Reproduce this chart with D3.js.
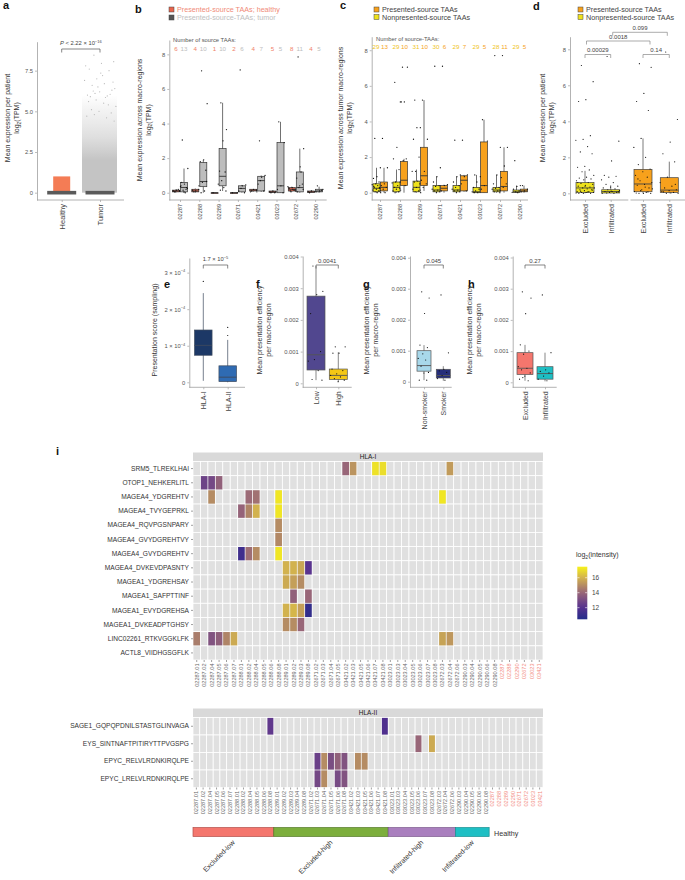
<!DOCTYPE html>
<html>
<head>
<meta charset="utf-8">
<script src="https://cdn.jsdelivr.net/npm/d3@7"></script>
<style>
  body { margin: 0; background: #fff; }
  svg { font-family: "Liberation Sans", Arial, sans-serif; }
</style>
</head>
<body>
<div id="chart"></div>
<script>
// ---------------- data ----------------

// panel a: mean expression per patient (dense clouds read as density levels + sparse dots)
const aGroups = ["Healthy", "Tumor"];
const aHealthyBand = [0, 1.0];
const aTumorLevels = [0, 2.0, 2.6, 3.4, 4.3, 5.2, 6.0];
const aTumorDensity = [1, 1, 0.8, 0.55, 0.35, 0.18, 0];
const aTumorSparse = [8.45, 8.05, 7.95, 7.6, 7.5, 7.0, 6.9, 6.7, 6.6, 6.3, 6.2, 6.0, 5.95, 6.1, 6.4, 7.2, 5.9, 6.05,
  6.5, 7.8, 5.85, 6.25, 6.8, 7.35, 5.6, 5.4, 5.7, 5.3, 5.5, 5.1, 4.9, 5.0, 4.7, 4.6, 4.8, 4.4];

// panel b/c: patients and number of source TAAs
const patients = ["02287", "02288", "02289", "02671", "03421", "03023", "02672", "02290"];
const bCountHealthy = [6, 4, 1, 2, 4, 5, 8, 4];
const bCountTumor = [13, 10, 10, 6, 7, 5, 11, 5];
const cCountNon = [29, 29, 31, 30, 29, 29, 28, 29];
const cCountPres = [13, 10, 10, 6, 7, 5, 11, 5];

// box stats: [lower whisker, q1, median, q3, upper whisker]
const bHealthyBox = [
  [0.02, 0.05, 0.1, 0.15, 0.2], [0, 0.05, 0.1, 0.2, 0.25], [0, 0, 0, 0, 0], [0, 0, 0, 0, 0],
  [0.05, 0.1, 0.15, 0.2, 0.2], [0, 0.02, 0.05, 0.1, 0.1], [0.05, 0.1, 0.2, 0.3, 0.35], [0, 0.02, 0.05, 0.1, 0.12]
];
const bTumorBox = [
  [0, 0.05, 0.3, 0.6, 1.4], [0, 0.35, 0.65, 1.75, 1.9], [0.1, 0.4, 0.95, 2.55, 5.2], [0, 0.05, 0.25, 0.4, 0.45],
  [0.05, 0.1, 0.7, 0.95, 1.0], [0, 0, 0.4, 2.9, 4.1], [0, 0.05, 0.3, 1.2, 2.55], [0, 0.05, 0.1, 0.2, 0.35]
];
const bHealthyPts = [
  [0.05, 0.1, 0.15, 0.1, 0.2, 0.05], [0.05, 0.2, 0.1, 0.15], [0], [0, 0], [0.1, 0.15, 0.2, 0.05],
  [0, 0.05, 0.1, 0.05, 0], [0.1, 0.2, 0.3, 0.25, 0.15, 0.05, 0.35, 0.2], [0, 0.05, 0.1, 0.05]
];
const bTumorPts = [
  [3.05, 1.4, 0.5, 0.4, 0.3, 0.15, 0.1, 0, 0.6, 0.25, 0.05, 0.35, 0.2],
  [7.05, 5.15, 1.9, 1.8, 1.3, 0.6, 0.4, 0.1, 0, 0.65],
  [5.2, 3.65, 3.0, 1.25, 1.2, 0.7, 0.5, 0.3, 0.15, 0.1],
  [7.1, 0.45, 0.4, 0.1, 0, 0.25],
  [3.0, 1.0, 0.9, 0.5, 0.1, 0.7, 0.05],
  [4.1, 2.9, 0.4, 0.2, 0],
  [7.85, 2.55, 1.5, 0.85, 0.5, 0.3, 0.1, 1.2, 0.05, 0.2, 0.4],
  [0.4, 0.2, 0.1, 0.05, 0.15]
];

const cNonBox = [
  [0, 0.05, 0.25, 0.5, 1.4], [0, 0.05, 0.3, 0.6, 1.3], [0, 0.05, 0.3, 0.65, 1.3], [0, 0.05, 0.15, 0.4, 0.9],
  [0, 0.05, 0.15, 0.4, 0.9], [0, 0, 0.05, 0.3, 1.0], [0, 0.05, 0.15, 0.3, 1.0], [0, 0.02, 0.05, 0.15, 0.4]
];
const cPresBox = [
  [0, 0.1, 0.3, 0.6, 1.4], [0, 0.4, 0.7, 1.75, 1.9], [0.1, 0.4, 0.95, 2.55, 5.2], [0, 0.1, 0.25, 0.4, 0.45],
  [0.05, 0.1, 0.7, 0.95, 1.0], [0, 0, 0.4, 2.85, 4.1], [0, 0.1, 0.35, 1.2, 2.55], [0, 0.05, 0.1, 0.2, 0.4]
];
const cNonPts = [
  [3.05, 1.4, 0.9, 0.8, 0.6, 0.5, 0.45, 0.4, 0.3, 0.25, 0.2, 0.15, 0.1, 0.05, 0, 0, 0.35, 0.28],
  [6.2, 5.1, 2.55, 1.9, 1.3, 0.6, 0.55, 0.4, 0.3, 0.25, 0.2, 0.1, 0.05, 0, 0.15],
  [5.2, 3.65, 3.65, 3.0, 2.0, 1.2, 1.2, 0.65, 0.6, 0.5, 0.3, 0.2, 0.1, 0.05, 0],
  [7.1, 1.4, 0.9, 0.6, 0.4, 0.35, 0.2, 0.15, 0.1, 0.05, 0],
  [2.95, 1.0, 0.9, 0.6, 0.4, 0.3, 0.2, 0.15, 0.1, 0.05, 0],
  [1.0, 0.9, 0.6, 0.3, 0.2, 0.1, 0.05, 0, 0],
  [7.7, 2.55, 1.0, 0.5, 0.3, 0.25, 0.2, 0.1, 0.05, 0],
  [1.8, 0.4, 0.35, 0.2, 0.1, 0.05, 0.02, 0]
];
const cPresPts = [
  [3.05, 1.4, 0.5, 0.4, 0.3, 0.2, 0.1, 0],
  [7.05, 7.05, 5.1, 5.1, 1.9, 1.8, 0.6, 0.4],
  [5.2, 3.0, 1.2, 0.7, 0.5, 0.3, 0.15],
  [7.1, 0.45, 0.4, 0.1],
  [2.95, 1.0, 0.9, 0.5, 0.1],
  [4.1, 2.9, 0.4, 0.2],
  [7.7, 2.55, 1.5, 0.85, 0.5, 0.3, 0.1],
  [0.4, 0.2, 0.1, 0.05]
];

// panel d: per patient, by immune group
const dGroups = ["Excluded", "Infiltrated"];
const dNonBox = [[0, 0.05, 0.3, 0.6, 1.25], [0, 0.02, 0.1, 0.2, 0.45]];
const dPresBox = [[0, 0.09, 0.52, 1.33, 3.05], [0, 0.05, 0.18, 0.87, 1.76]];
const dNonPts = [
  [7.1, 6.2, 5.2, 5.1, 3.2, 3.0, 2.95, 2.6, 2.3, 2.2, 1.5, 1.45, 1.3, 1.2, 1.0, 0.9, 0.85, 0.8, 0.75, 0.7, 0.6, 0.55, 0.5, 0.45,
   0.4, 0.35, 0.3, 0.3, 0.25, 0.2, 0.2, 0.15, 0.1, 0.1, 0.05, 0.05, 0.05, 0, 0, 0, 0.02, 0.08, 0.12, 0.18, 0.4, 0.6],
  [7.6, 2.9, 1.8, 1.0, 0.95, 0.9, 0.75, 0.6, 0.5, 0.4, 0.35, 0.3, 0.25, 0.2, 0.15, 0.1, 0.1, 0.05, 0.05, 0, 0, 0.02, 0.08, 0.12]
];
const dPresPts = [
  [7.2, 7.0, 5.55, 5.1, 4.6, 3.05, 2.55, 2.0, 1.6, 1.35, 1.2, 1.0, 0.9, 0.7, 0.6, 0.5, 0.45, 0.3, 0.2, 0.1, 0.05, 0, 0, 0,
   0.02, 0.08, 0.15, 0.25, 0.35, 0.8],
  [7.85, 4.1, 2.85, 2.2, 1.75, 0.9, 0.6, 0.4, 0.3, 0.2, 0.15, 0.1, 0.05, 0, 0, 0.02, 0.08, 0.5]
];

// panel e: presentation score (x 1e-4)
const eGroups = ["HLA-I", "HLA-II"];
const eBox = [[0.04, 0.74, 1.01, 1.43, 2.44], [0, 0.02, 0.14, 0.45, 1.16]];
const eOutliers = [[2.76], [1.28, 1.5]];

// panels f-h: mean presentation efficiency per macro-region
const fGroups = ["Low", "High"];
const fBox = [[0.0001, 0.00042, 0.0009, 0.00275, 0.0037], [0.00005, 0.00012, 0.00025, 0.00045, 0.00098]];
const fPts = [
  [0.0037, 0.0029, 0.0028, 0.0022, 0.001, 0.00075, 0.0007, 0.0004, 0.00012, 0.0001],
  [0.00115, 0.00115, 0.00095, 0.00095, 0.0004, 0.0003, 0.00025, 0.0002, 0.00015, 0.0001, 0.00005, 0.00045]
];
const gGroups = ["Non-smoker", "Smoker"];
const gBox = [[0.00005, 0.00034, 0.00052, 0.001, 0.00118], [0.00003, 0.00012, 0.0002, 0.0004, 0.0005]];
const gPts = [
  [0.0029, 0.0027, 0.0022, 0.00118, 0.0011, 0.0009, 0.00075, 0.0007, 0.0005, 0.0003, 0.00028, 0.00005, 0.00005],
  [0.0028, 0.00093, 0.0004, 0.00035, 0.0003, 0.0002, 0.0001, 0.00005]
];
const hGroups = ["Excluded", "Infiltrated"];
const hBox = [[0.00005, 0.00025, 0.00045, 0.00095, 0.0012], [0.00003, 0.0001, 0.00028, 0.0005, 0.00095]];
const hPts = [
  [0.0029, 0.0027, 0.0022, 0.0012, 0.001, 0.0009, 0.0005, 0.00045, 0.0004, 0.0003, 0.0002, 0.0001, 0.00005, 0.00015],
  [0.0028, 0.00095, 0.0004, 0.00035, 0.0003, 0.0002, 0.0001, 0.00005]
];

// panel i: heatmaps
const hla1Samples = ["02287.01", "02287.02", "02287.04", "02287.05", "02287.06", "02287.07",
  "02288.01", "02288.02", "02288.04", "02288.05", "02288.06", "02288.08",
  "02289.01", "02289.02", "02289.03", "02289.08",
  "02671.02", "02671.03", "02671.04", "02671.05",
  "03421.02", "03421.03", "03421.05", "03421.06", "03421.07", "03421.08",
  "03023.01", "03023.03", "03023.04", "03023.05", "03023.06", "03023.07", "03023.08",
  "02672.03", "02672.04", "02672.06",
  "02290.03", "02290.04", "02290.05", "02290.06", "02290.08",
  "02287", "02288", "02290", "02672", "03023", "03421"];
const hla1Peptides = ["SRM5_TLREKLHAI", "OTOP1_NEHKERLITL", "MAGEA4_YDGREHTV", "MAGEA4_TVYGEPRKL",
  "MAGEA4_RQVPGSNPARY", "MAGEA4_GVYDGREHTVY", "MAGEA4_GVYDGREHTV", "MAGEA4_DVKEVDPASNTY",
  "MAGEA1_YDGREHSAY", "MAGEA1_SAFPTTINF", "MAGEA1_EVYDGREHSA", "MAGEA1_DVKEADPTGHSY",
  "LINC02261_RTKVGGKLFK", "ACTL8_VIIDHGSGFLK"];
const hla1Cells = [
  ["SRM5_TLREKLHAI", "03421.02", 14.0], ["SRM5_TLREKLHAI", "03421.03", 15.2], ["SRM5_TLREKLHAI", "03421.07", 17.1],
  ["SRM5_TLREKLHAI", "03421.08", 17.0], ["SRM5_TLREKLHAI", "02672.04", 15.4],
  ["OTOP1_NEHKERLITL", "02287.02", 12.7], ["OTOP1_NEHKERLITL", "02287.04", 12.9], ["OTOP1_NEHKERLITL", "02287.05", 13.8],
  ["MAGEA4_YDGREHTV", "02287.04", 15.0], ["MAGEA4_YDGREHTV", "02288.02", 14.1], ["MAGEA4_YDGREHTV", "02288.04", 14.3],
  ["MAGEA4_YDGREHTV", "02288.08", 17.2], ["MAGEA4_YDGREHTV", "02672.03", 17.2],
  ["MAGEA4_TVYGEPRKL", "02288.01", 13.9], ["MAGEA4_TVYGEPRKL", "02288.02", 14.8], ["MAGEA4_TVYGEPRKL", "02288.04", 16.0],
  ["MAGEA4_TVYGEPRKL", "02288.08", 17.2],
  ["MAGEA4_RQVPGSNPARY", "02288.08", 15.0],
  ["MAGEA4_GVYDGREHTVY", "02288.08", 14.9],
  ["MAGEA4_GVYDGREHTV", "02288.01", 11.3], ["MAGEA4_GVYDGREHTV", "02288.02", 14.2], ["MAGEA4_GVYDGREHTV", "02288.04", 15.0],
  ["MAGEA4_GVYDGREHTV", "02288.08", 17.2],
  ["MAGEA4_DVKEVDPASNTY", "02289.01", 16.0], ["MAGEA4_DVKEVDPASNTY", "02289.02", 16.0],
  ["MAGEA4_DVKEVDPASNTY", "02289.03", 15.7], ["MAGEA4_DVKEVDPASNTY", "02289.08", 12.1],
  ["MAGEA1_YDGREHSAY", "02289.01", 15.8], ["MAGEA1_YDGREHSAY", "02289.02", 15.5], ["MAGEA1_YDGREHSAY", "02289.03", 15.0],
  ["MAGEA1_SAFPTTINF", "02289.02", 13.8], ["MAGEA1_SAFPTTINF", "02289.08", 14.0],
  ["MAGEA1_EVYDGREHSA", "02289.01", 16.0], ["MAGEA1_EVYDGREHSA", "02289.02", 16.1],
  ["MAGEA1_EVYDGREHSA", "02289.03", 15.5], ["MAGEA1_EVYDGREHSA", "02289.08", 10.9],
  ["MAGEA1_DVKEADPTGHSY", "02289.01", 15.0], ["MAGEA1_DVKEADPTGHSY", "02289.02", 15.0], ["MAGEA1_DVKEADPTGHSY", "02289.03", 14.0],
  ["LINC02261_RTKVGGKLFK", "02287.01", 14.6], ["LINC02261_RTKVGGKLFK", "02287.04", 13.3],
  ["LINC02261_RTKVGGKLFK", "02287.05", 13.7], ["LINC02261_RTKVGGKLFK", "02287.06", 14.8],
  ["LINC02261_RTKVGGKLFK", "02287.07", 15.8], ["LINC02261_RTKVGGKLFK", "02672.03", 15.6],
  ["LINC02261_RTKVGGKLFK", "02672.04", 15.3]
];
const hla2Samples = ["02287.01", "02287.02", "02287.04", "02287.05", "02287.06", "02287.07",
  "02288.01", "02288.02", "02288.04", "02288.05", "02288.06", "02288.08",
  "02289.01", "02289.02", "02289.03", "02289.04", "02289.08",
  "02671.02", "02671.03", "02671.04", "02671.05", "02671.06", "02671.08",
  "03421.02", "03421.03", "03421.05", "03421.06", "03421.07", "03421.08",
  "03023.01", "03023.03", "03023.04", "03023.05", "03023.06", "03023.07", "03023.08",
  "02672.03", "02672.04", "02672.06",
  "02290.03", "02290.04", "02290.05", "02290.06", "02290.08",
  "02287", "02288", "02289", "02290", "02671", "02672", "03023", "03421"];
const hla2Peptides = ["SAGE1_GQPQPDNILSTASTGLINVAGA", "EYS_SINTNAFTPITIRYTTPVGSPG",
  "EPYC_RELVLRDNKIRQLPE", "EPYC_LRELVLRDNKIRQLPE"];
const hla2Cells = [
  ["SAGE1_GQPQPDNILSTASTGLINVAGA", "02288.08", 12.3], ["SAGE1_GQPQPDNILSTASTGLINVAGA", "03421.08", 11.8],
  ["EYS_SINTNAFTPITIRYTTPVGSPG", "03023.06", 14.0], ["EYS_SINTNAFTPITIRYTTPVGSPG", "03023.08", 15.8],
  ["EPYC_RELVLRDNKIRQLPE", "02671.03", 12.6], ["EPYC_RELVLRDNKIRQLPE", "02671.04", 15.0],
  ["EPYC_RELVLRDNKIRQLPE", "02671.05", 13.1], ["EPYC_RELVLRDNKIRQLPE", "02671.06", 13.8],
  ["EPYC_RELVLRDNKIRQLPE", "02671.08", 13.3], ["EPYC_RELVLRDNKIRQLPE", "03421.03", 15.0],
  ["EPYC_RELVLRDNKIRQLPE", "03421.05", 15.0],
  ["EPYC_LRELVLRDNKIRQLPE", "02671.03", 12.9], ["EPYC_LRELVLRDNKIRQLPE", "02671.04", 15.0],
  ["EPYC_LRELVLRDNKIRQLPE", "02671.06", 13.0], ["EPYC_LRELVLRDNKIRQLPE", "02671.08", 13.3]
];
const immuneGroups = ["Excluded-low", "Excluded-high", "Infiltrated-high", "Infiltrated-low"];
const immunePatients = [["02287", "02288"], ["02289", "02671", "03421"], ["03023", "02672"], ["02290"]];
const intensityTicks = [12, 14, 16];

// ---------------- drawing ----------------

const FONT = "'Liberation Sans', Arial, sans-serif";
const axisColor = "#a0a0a0";
const tickText = "#555";

const svg = d3.select("#chart")
  .append("svg")
  .attr("width", 685)
  .attr("height", 880)
  .attr("font-family", FONT);

const defs = svg.append("defs");

// deterministic jitter offset in [-1, 1] (position only)
function jit(i) {
  return ((i * 0.618034 + 0.31) % 1) * 2 - 1;
}

function panelLetter(x, y, s) {
  svg.append("text")
    .attr("x", x).attr("y", y)
    .attr("font-size", 11).attr("font-weight", "bold").attr("fill", "#111")
    .text(s);
}

// rotated axis title; lines are strings, "log2" gets a subscript
function yTitle(x, yc, lines, gap) {
  lines.forEach(function(line, i) {
    const t = svg.append("text")
      .attr("transform", `translate(${x + i * (gap || 8.5)},${yc}) rotate(-90)`)
      .attr("text-anchor", "middle")
      .attr("font-size", 7)
      .attr("fill", "#333");
    if (line.startsWith("log2")) {
      t.append("tspan").text("log");
      t.append("tspan").attr("font-size", 5).attr("dy", 1.5).text("2");
      t.append("tspan").attr("dy", -1.5).text(line.slice(4));
    } else {
      t.text(line);
    }
  });
}

function yAxis(x, scale, ticks, fmt) {
  const g = svg.append("g")
    .attr("transform", `translate(${x},0)`)
    .call(d3.axisLeft(scale).tickValues(ticks).tickFormat(fmt).tickSize(2).tickSizeOuter(0).tickPadding(2));
  g.select(".domain").attr("stroke", axisColor).attr("stroke-width", 0.8);
  g.selectAll(".tick line").attr("stroke", axisColor).attr("stroke-width", 0.7);
  g.selectAll(".tick text").attr("fill", tickText).attr("font-size", 5.8).attr("font-family", FONT);
  return g;
}

function xAxis(y, x0, x1, scale, fontSize) {
  svg.append("line")
    .attr("x1", x0).attr("x2", x1).attr("y1", y).attr("y2", y)
    .attr("stroke", axisColor).attr("stroke-width", 0.8);
  const g = svg.append("g")
    .attr("transform", `translate(0,${y})`)
    .call(d3.axisBottom(scale).tickSize(2).tickSizeOuter(0));
  g.select(".domain").remove();
  g.selectAll(".tick line").attr("stroke", axisColor).attr("stroke-width", 0.7);
  g.selectAll(".tick text")
    .attr("transform", "rotate(-90)")
    .attr("text-anchor", "end")
    .attr("x", -4).attr("y", 0).attr("dy", "0.35em")
    .attr("font-size", fontSize).attr("font-family", FONT).attr("fill", "#444");
}

function box(cx, w, s, y, fill, stroke) {
  svg.append("line")
    .attr("x1", cx).attr("x2", cx).attr("y1", y(s[0])).attr("y2", y(s[4]))
    .attr("stroke", stroke).attr("stroke-width", 0.7);
  svg.append("rect")
    .attr("x", cx - w / 2).attr("y", y(s[3]))
    .attr("width", w).attr("height", Math.max(y(s[1]) - y(s[3]), 0.8))
    .attr("fill", fill).attr("stroke", stroke).attr("stroke-width", 0.7);
  svg.append("line")
    .attr("x1", cx - w / 2).attr("x2", cx + w / 2).attr("y1", y(s[2])).attr("y2", y(s[2]))
    .attr("stroke", stroke).attr("stroke-width", 0.9);
}

function dots(cx, spread, vals, y, r) {
  svg.append("g").selectAll("circle")
    .data(vals)
    .enter().append("circle")
    .attr("cx", function(d, i) { return cx + jit(i) * spread; })
    .attr("cy", function(d) { return y(d); })
    .attr("r", r || 0.7)
    .attr("fill", "#111");
}

function bracket(x1, x2, y, drop, color) {
  svg.append("path")
    .attr("d", `M${x1},${y + drop}V${y}H${x2}V${y + drop}`)
    .attr("fill", "none").attr("stroke", color || "#555").attr("stroke-width", 0.7);
}

function bracketLabel(x1, x2, y, label, color) {
  bracket(x1, x2, y, 3.5, color);
  svg.append("text")
    .attr("x", (x1 + x2) / 2).attr("y", y - 2.5).attr("text-anchor", "middle")
    .attr("font-size", 6).attr("fill", "#444").text(label);
}

function legendItem(x, y, fill, label, textColor) {
  svg.append("rect")
    .attr("x", x).attr("y", y - 5).attr("width", 5).attr("height", 5)
    .attr("fill", fill).attr("stroke", "#444").attr("stroke-width", 0.5);
  svg.append("text")
    .attr("x", x + 8).attr("y", y)
    .attr("font-size", 7.2).attr("fill", textColor).text(label);
}

// ===== panel a =====
panelLetter(3, 9, "a");
const aY = d3.scaleLinear().domain([-0.45, 9.28]).range([200, 41.7]);
const aX = d3.scalePoint().domain(aGroups).range([61.7, 100]);

svg.append("rect")
  .attr("x", aX("Healthy") - 8.5).attr("width", 17)
  .attr("y", aY(aHealthyBand[1])).attr("height", aY(aHealthyBand[0]) - aY(aHealthyBand[1]))
  .attr("fill", "#f47c55");

// tumour cloud: vertical density gradient
const aTop = d3.max(aTumorLevels);
const aGrad = defs.append("linearGradient").attr("id", "tumorGrad")
  .attr("x1", 0).attr("x2", 0).attr("y1", 1).attr("y2", 0);
aTumorLevels.forEach(function(v, i) {
  aGrad.append("stop")
    .attr("offset", v / aTop)
    .attr("stop-color", "#c4c4c4")
    .attr("stop-opacity", aTumorDensity[i]);
});
svg.append("rect")
  .attr("x", aX("Tumor") - 18).attr("width", 35)
  .attr("y", aY(aTop)).attr("height", aY(0) - aY(aTop))
  .attr("fill", "url(#tumorGrad)");

svg.append("g").selectAll("circle")
  .data(aTumorSparse)
  .enter().append("circle")
  .attr("cx", function(d, i) { return aX("Tumor") + jit(i) * 16; })
  .attr("cy", function(d) { return aY(d); })
  .attr("r", 0.6)
  .attr("fill", "#b8b8b8");

aGroups.forEach(function(g) {
  svg.append("rect")
    .attr("x", aX(g) - 14.5).attr("width", 29)
    .attr("y", aY(0) - 1.8).attr("height", 3.6)
    .attr("fill", "#5a5a5a");
});

yAxis(37, aY, [0, 2.5, 5, 7.5], function(d) { return d === 0 ? "0" : d3.format(".1f")(d); });
xAxis(200, 37, 124, aX, 7.5);
yTitle(10, 118, ["Mean expression per patient", "log2(TPM)"], 9);
bracket(aX("Healthy"), aX("Tumor"), 49, 3.5);
const aP = svg.append("text")
  .attr("x", (aX("Healthy") + aX("Tumor")) / 2).attr("y", 45)
  .attr("text-anchor", "middle").attr("font-size", 5.8).attr("fill", "#444");
aP.append("tspan").attr("font-style", "italic").text("P");
aP.append("tspan").text(" < 2.22 \u00d7 10");
aP.append("tspan").attr("font-size", 4).attr("dy", -2.5).text("\u221216");

// ===== panel b =====
panelLetter(135, 13, "b");
legendItem(169, 12, "#e8644c", "Presented-source TAAs; healthy", "#f08a78");
legendItem(169, 20, "#555555", "Presented-source-TAAs; tumor", "#c0c0c0");
const bY = d3.scaleLinear().domain([-0.42, 8.83]).range([200, 40]);
const bX = d3.scalePoint().domain(patients).range([180, 315.1]);
yAxis(169.3, bY, [0, 2, 4, 6, 8], d3.format("d"));
xAxis(200, 169.3, 326.7, bX, 5.6);
yTitle(142, 120, ["Mean expression across macro-regions", "log2(TPM)"]);
svg.append("text").attr("x", 173).attr("y", 42).attr("font-size", 5.8).attr("fill", "#555")
  .text("Number of source TAAs:");
patients.forEach(function(p, i) {
  const cx = bX(p);
  svg.append("text").attr("x", cx - 4).attr("y", 50.5).attr("text-anchor", "middle")
    .attr("font-size", 6.2).attr("fill", "#f07f68").text(bCountHealthy[i]);
  svg.append("text").attr("x", cx + 4).attr("y", 50.5).attr("text-anchor", "middle")
    .attr("font-size", 6.2).attr("fill", "#bdbdbd").text(bCountTumor[i]);
  box(cx - 4, 7, bHealthyBox[i], bY, "#e8684f", "#333");
  box(cx + 4, 7, bTumorBox[i], bY, "#bdbdbd", "#333");
  dots(cx - 4, 4, bHealthyPts[i], bY, 0.65);
  dots(cx + 4, 4.5, bTumorPts[i], bY, 0.65);
});

// ===== panel c =====
panelLetter(340, 9, "c");
legendItem(374, 12, "#f7a11c", "Presented-source TAAs", "#444");
legendItem(374, 19.5, "#eee21c", "Nonpresented-source TAAs", "#444");
const cY = d3.scaleLinear().domain([-0.41, 8.76]).range([200, 36.7]);
const cX = d3.scalePoint().domain(patients).range([380, 520]);
yAxis(371.7, cY, [0, 2, 4, 6, 8], d3.format("d"));
xAxis(200, 371.7, 528, cX, 5.6);
yTitle(343, 118, ["Mean expression across tumor macro-regions", "log2(TPM)"]);
svg.append("text").attr("x", 376).attr("y", 40.5).attr("font-size", 5.8).attr("fill", "#555")
  .text("Number of source-TAAs:");
patients.forEach(function(p, i) {
  const cx = cX(p);
  svg.append("text").attr("x", cx - 4).attr("y", 48.5).attr("text-anchor", "middle")
    .attr("font-size", 6.2).attr("fill", "#efc423").text(cCountNon[i]);
  svg.append("text").attr("x", cx + 4.5).attr("y", 48.5).attr("text-anchor", "middle")
    .attr("font-size", 6.2).attr("fill", "#f5a41e").text(cCountPres[i]);
  box(cx - 3.5, 7, cNonBox[i], cY, "#eee21c", "#333");
  box(cx + 4, 7, cPresBox[i], cY, "#f7a11c", "#333");
  dots(cx - 3.5, 4.5, cNonPts[i], cY, 0.65);
  dots(cx + 4, 4, cPresPts[i], cY, 0.65);
});

// ===== panel d =====
panelLetter(533, 10, "d");
legendItem(578, 12, "#f7a11c", "Presented-source TAAs", "#444");
legendItem(578, 19.5, "#eee21c", "Nonpresented-source TAAs", "#444");
const dY = d3.scaleLinear().domain([-0.37, 8.7]).range([200, 36.7]);
const dXnon = d3.scalePoint().domain(dGroups).range([585, 610.7]);
const dXpres = d3.scalePoint().domain(dGroups).range([643, 669.3]);
yAxis(570, dY, [0, 2, 4, 6, 8], d3.format("d"));
xAxis(200, 570, 628.3, dXnon, 7.2);
xAxis(200, 630.5, 685, dXpres, 7.2);
yTitle(545, 118, ["Mean expression per patient", "log2(TPM)"]);
dGroups.forEach(function(g, i) {
  box(dXnon(g), 18, dNonBox[i], dY, "#eee21c", "#444");
  box(dXpres(g), 18, dPresBox[i], dY, "#f7a11c", "#444");
  dots(dXnon(g), 9.5, dNonPts[i], dY, 0.6);
  dots(dXpres(g), 9.5, dPresPts[i], dY, 0.6);
});
bracketLabel(dXnon("Excluded"), dXnon("Infiltrated"), 54.5, "0.00029", "#888");
bracketLabel(dXpres("Excluded"), dXpres("Infiltrated"), 54.5, "0.14", "#888");
bracketLabel(586.5, 650, 41, "0.0018", "#888");
bracketLabel(612.7, 667.3, 32.3, "0.099", "#888");

// ===== panel e =====
panelLetter(164, 288, "e");
const eY = d3.scaleLinear().domain([-0.137, 3.4]).range([387.3, 258]);
const eX = d3.scalePoint().domain(eGroups).range([203.3, 227.7]);
const eAxis = yAxis(189.3, eY, [0, 1, 2, 3], function(d) { return d; });
eAxis.selectAll(".tick text").each(function(d) {
  const t = d3.select(this).text("");
  if (d === 0) { t.text("0"); return; }
  t.append("tspan").text(d + " \u00d7 10");
  t.append("tspan").attr("font-size", 4).attr("dy", -2.5).text("\u22124");
});
xAxis(387.3, 189.3, 245, eX, 7);
yTitle(157, 330, ["Presentation score (sampling)"]);
const eColors = ["#1c3866", "#2f6bb3"];
eGroups.forEach(function(g, i) {
  box(eX(g), 17.5, eBox[i], eY, eColors[i], "#3d4a5e");
  dots(eX(g), 0, eOutliers[i], eY, 0.6);
});
bracket(eX("HLA-I"), eX("HLA-II"), 265, 3.5);
const eP = svg.append("text")
  .attr("x", (eX("HLA-I") + eX("HLA-II")) / 2).attr("y", 261)
  .attr("text-anchor", "middle").attr("font-size", 5.8).attr("fill", "#444");
eP.append("tspan").text("1.7 \u00d7 10");
eP.append("tspan").attr("font-size", 4).attr("dy", -2.5).text("\u22125");

// ===== panels f, g, h =====
function effPanel(letter, lx, axisX, zeroY, pxPerUnit, cats, catRange, axisEnd, boxes, pts, colors, bw, pLabel) {
  panelLetter(lx, 288, letter);
  const y = d3.scaleLinear()
    .domain([(zeroY - 387.3) / pxPerUnit, (zeroY - 256) / pxPerUnit])
    .range([387.3, 256]);
  const x = d3.scalePoint().domain(cats).range(catRange);
  yAxis(axisX, y, [0, 0.001, 0.002, 0.003, 0.004], function(d) { return d === 0 ? "0" : d3.format(".3f")(d); });
  xAxis(387.3, axisX, axisEnd, x, 7);
  yTitle(axisX - 41, 330, ["Mean presentation efficiency", "per macro-region"], 9);
  cats.forEach(function(c, i) {
    box(x(c), bw, boxes[i], y, colors[i], "#555");
    dots(x(c), bw / 2 - 1, pts[i], y, 0.6);
  });
  bracketLabel(x(cats[0]), x(cats[1]), 265, pLabel);
}

effPanel("f", 256, 302.7, 383.3, 31700, fGroups, [316, 338.3], 351.7, fBox, fPts, ["#51478f", "#f4c714"], 18, "0.0041");
effPanel("g", 363, 410, 381.7, 31000, gGroups, [424, 443.3], 451.7, gBox, gPts, ["#a8d8ea", "#252d7a"], 14, "0.045");
effPanel("h", 468, 512.7, 382.3, 31200, hGroups, [525, 545], 556.7, hBox, hPts, ["#f4766d", "#1ebfc4"], 16, "0.27");

// ===== panel i: heatmaps =====
panelLetter(56, 455, "i");
const color = d3.scaleLinear()
  .domain([10.45, 12, 14, 16, 17.47])
  .range(["#232c8a", "#56308f", "#986678", "#d2b24e", "#f7f21a"]);

function heatmap(samples, peptides, cells, top, bottom, title) {
  const x = d3.scaleBand().domain(samples).range([193, 543]);
  const y = d3.scaleBand().domain(peptides).range([top, bottom]);

  // facet strip
  svg.append("rect").attr("x", 193).attr("y", top - 9).attr("width", 350).attr("height", 8.5).attr("fill", "#d9d9d9");
  svg.append("text").attr("x", 368).attr("y", top - 2.5).attr("text-anchor", "middle")
    .attr("font-size", 6.5).attr("fill", "#222").text(title);

  // empty tiles
  const grid = [];
  peptides.forEach(function(p) { samples.forEach(function(s) { grid.push([p, s]); }); });
  svg.append("g").selectAll("rect")
    .data(grid)
    .enter().append("rect")
    .attr("x", function(d) { return x(d[1]); })
    .attr("y", function(d) { return y(d[0]); })
    .attr("width", x.bandwidth()).attr("height", y.bandwidth())
    .attr("fill", "#e0e0e0").attr("stroke", "#fff").attr("stroke-width", 0.8);

  // intensity tiles
  svg.append("g").selectAll("rect")
    .data(cells)
    .enter().append("rect")
    .attr("x", function(d) { return x(d[1]) + 0.4; })
    .attr("y", function(d) { return y(d[0]) + 0.4; })
    .attr("width", x.bandwidth() - 0.8).attr("height", y.bandwidth() - 0.8)
    .attr("fill", function(d) { return color(d[2]); });

  // row labels
  const ry = svg.append("g")
    .attr("transform", "translate(193,0)")
    .call(d3.axisLeft(y).tickSize(2).tickPadding(2));
  ry.select(".domain").remove();
  ry.selectAll(".tick line").attr("stroke", axisColor);
  ry.selectAll(".tick text").attr("font-size", 6.6).attr("font-family", FONT).attr("fill", "#333");

  // column labels
  const rx = svg.append("g")
    .attr("transform", `translate(0,${bottom})`)
    .call(d3.axisBottom(x).tickSize(2));
  rx.select(".domain").remove();
  rx.selectAll(".tick line").attr("stroke", axisColor);
  rx.selectAll(".tick text")
    .attr("transform", "rotate(-90)")
    .attr("text-anchor", "end")
    .attr("x", -3.5).attr("y", 0).attr("dy", "0.35em")
    .attr("font-size", 5.6).attr("font-family", FONT)
    .attr("fill", function(d) { return d.indexOf(".") < 0 ? "#f28a80" : "#666"; });
  return x;
}

heatmap(hla1Samples, hla1Peptides, hla1Cells, 461.5, 660, "HLA-I");
const x2 = heatmap(hla2Samples, hla2Peptides, hla2Cells, 717.5, 787.5, "HLA-II");

// immune group annotation bar (aligned with HLA-II columns)
const groupColors = ["#f4766d", "#7cae3c", "#a97fbe", "#1ebfc4"];
const groupStroke = ["#b24f49", "#557a28", "#7d5a8e", "#178f92"];
immuneGroups.forEach(function(g, i) {
  const cols = hla2Samples.filter(function(s) {
    return s.indexOf(".") > 0 && immunePatients[i].indexOf(s.split(".")[0]) >= 0;
  });
  const x0 = d3.min(cols, function(s) { return x2(s); });
  const x1 = d3.max(cols, function(s) { return x2(s) + x2.bandwidth(); });
  svg.append("rect")
    .attr("x", x0).attr("y", 827.5).attr("width", x1 - x0).attr("height", 9)
    .attr("fill", groupColors[i]).attr("stroke", groupStroke[i]).attr("stroke-width", 0.7);
  svg.append("text")
    .attr("transform", `translate(${(x0 + x1) / 2 + 2},843) rotate(-45)`)
    .attr("text-anchor", "end")
    .attr("font-size", 7).attr("fill", "#333").text(g);
});
svg.append("text").attr("x", 494).attr("y", 835.5).attr("font-size", 7.2).attr("fill", "#333").text("Healthy");

// intensity colour bar
const lY = d3.scaleLinear().domain([10.45, 17.47]).range([619.3, 566.7]);
const grad = defs.append("linearGradient").attr("id", "intGrad")
  .attr("x1", 0).attr("x2", 0).attr("y1", 1).attr("y2", 0);
d3.range(0, 1.0001, 0.1).forEach(function(t) {
  const v = lY.domain()[0] + t * (lY.domain()[1] - lY.domain()[0]);
  grad.append("stop").attr("offset", t).attr("stop-color", color(v));
});
svg.append("rect").attr("x", 577.3).attr("y", 566.7).attr("width", 10).attr("height", 52.6).attr("fill", "url(#intGrad)");
intensityTicks.forEach(function(v) {
  svg.append("line").attr("x1", 577.3).attr("x2", 579.5).attr("y1", lY(v)).attr("y2", lY(v)).attr("stroke", "#fff").attr("stroke-width", 0.6);
  svg.append("line").attr("x1", 585.1).attr("x2", 587.3).attr("y1", lY(v)).attr("y2", lY(v)).attr("stroke", "#fff").attr("stroke-width", 0.6);
  svg.append("text").attr("x", 592).attr("y", lY(v) + 2.2).attr("font-size", 6.5).attr("fill", "#444").text(v);
});
const lt = svg.append("text").attr("x", 576).attr("y", 557).attr("font-size", 7).attr("fill", "#333");
lt.append("tspan").text("log");
lt.append("tspan").attr("font-size", 5).attr("dy", 1.5).text("2");
lt.append("tspan").attr("dy", -1.5).text("(intensity)");
</script>
</body>
</html>
